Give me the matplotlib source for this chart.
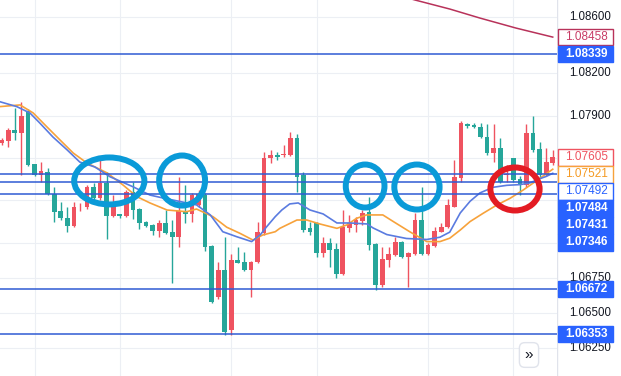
import matplotlib.pyplot as plt
from matplotlib.patches import Ellipse, Rectangle

# candle OHLC, one per bar (red = up, green = down on this chart)
opens = [1.07705, 1.07723, 1.07799, 1.07776, 1.07936, 1.07558, 1.07480, 1.07504, 1.07343, 1.07225,
         1.07178, 1.07116, 1.07250, 1.07250, 1.07396, 1.07314, 1.07420, 1.07187, 1.07203, 1.07187,
         1.07360, 1.07239, 1.07149, 1.07126, 1.07083, 1.07137, 1.07076, 1.07043, 1.07227, 1.07203,
         1.07268, 1.07338, 1.06976, 1.06613, 1.06807, 1.06384, 1.06878, 1.06862, 1.06807, 1.06866,
         1.07066, 1.07598, 1.07622, 1.07622, 1.07622, 1.07740, 1.07480, 1.07102, 1.07137, 1.06929,
         1.06995, 1.06953, 1.06778, 1.07102, 1.07126, 1.07156, 1.07220, 1.06988, 1.06700, 1.06878,
         1.06913, 1.07003, 1.06901, 1.06920, 1.07161, 1.06920, 1.06976, 1.07078, 1.07108, 1.07255,
         1.07456, 1.07842, 1.07835, 1.07823, 1.07752, 1.07634, 1.07669, 1.07478, 1.07598, 1.07452,
         1.07409, 1.07776, 1.07662, 1.07480, 1.07563]
closes = [1.07728, 1.07799, 1.07776, 1.07898, 1.07551, 1.07480, 1.07511, 1.07343, 1.07220, 1.07173,
          1.07116, 1.07255, 1.07255, 1.07396, 1.07314, 1.07424, 1.07187, 1.07260, 1.07193, 1.07360,
          1.07232, 1.07142, 1.07121, 1.07083, 1.07142, 1.07071, 1.07043, 1.07225, 1.07203, 1.07338,
          1.07346, 1.06971, 1.06581, 1.06807, 1.06369, 1.06878, 1.06859, 1.06807, 1.06862, 1.07078,
          1.07598, 1.07622, 1.07610, 1.07629, 1.07740, 1.07468, 1.07090, 1.07078, 1.06929, 1.06995,
          1.06948, 1.06778, 1.07113, 1.07137, 1.07161, 1.07213, 1.06983, 1.06700, 1.06885, 1.06918,
          1.07003, 1.06897, 1.06929, 1.07161, 1.06920, 1.06983, 1.07083, 1.07113, 1.07268, 1.07468,
          1.07851, 1.07827, 1.07818, 1.07752, 1.07634, 1.07669, 1.07433, 1.07487, 1.07445, 1.07409,
          1.07776, 1.07657, 1.07480, 1.07575, 1.07605]
highs = [1.07742, 1.07811, 1.07955, 1.08000, 1.07948, 1.07558, 1.07575, 1.07530, 1.07396, 1.07291,
         1.07255, 1.07291, 1.07284, 1.07409, 1.07423, 1.07587, 1.07499, 1.07338, 1.07207, 1.07374,
         1.07434, 1.07246, 1.07156, 1.07133, 1.07161, 1.07232, 1.07161, 1.07466, 1.07409, 1.07353,
         1.07374, 1.07353, 1.06983, 1.06866, 1.07043, 1.06920, 1.06971, 1.06935, 1.06871, 1.07149,
         1.07645, 1.07657, 1.07645, 1.07693, 1.07787, 1.07771, 1.07501, 1.07149, 1.07149, 1.07043,
         1.07031, 1.06998, 1.07232, 1.07196, 1.07185, 1.07232, 1.07324, 1.06998, 1.06971, 1.06971,
         1.07043, 1.07015, 1.06936, 1.07209, 1.07395, 1.07000, 1.07113, 1.07137, 1.07308, 1.07587,
         1.07865, 1.07851, 1.07847, 1.07847, 1.07842, 1.07842, 1.07745, 1.07551, 1.07600, 1.07473,
         1.07842, 1.07898, 1.07716, 1.07669, 1.07657]
lows = [1.07693, 1.07681, 1.07726, 1.07480, 1.07544, 1.07473, 1.07433, 1.07338, 1.07149, 1.07161,
        1.07078, 1.07111, 1.07227, 1.07239, 1.07303, 1.07303, 1.07024, 1.07182, 1.07178, 1.07182,
        1.07166, 1.07095, 1.07115, 1.07055, 1.07043, 1.07062, 1.06712, 1.06973, 1.07140, 1.07149,
        1.07253, 1.06943, 1.06572, 1.06604, 1.06346, 1.06346, 1.06854, 1.06800, 1.06613, 1.06857,
        1.07055, 1.07566, 1.07587, 1.07610, 1.07615, 1.07360, 1.07076, 1.07055, 1.06900, 1.06900,
        1.06830, 1.06748, 1.06771, 1.07078, 1.07078, 1.07126, 1.06948, 1.06665, 1.06686, 1.06830,
        1.06906, 1.06892, 1.06684, 1.06913, 1.06913, 1.06913, 1.06971, 1.07076, 1.07104, 1.07253,
        1.07433, 1.07811, 1.07811, 1.07740, 1.07622, 1.07575, 1.07423, 1.07433, 1.07430, 1.07338,
        1.07395, 1.07643, 1.07456, 1.07473, 1.07551]

# moving averages, read at bar positions
blue_ma_x = [-0.3, 2.3, 4.3, 5.8, 7.8, 10.0, 11.9, 14.2, 16.5, 20.0, 22.6, 24.6, 29.7, 31.8, 33.7,
             35.8, 38.1, 39.4, 40.4, 41.7, 42.7, 43.9, 45.2, 47.0, 49.0, 51.1, 53.1, 55.7, 56.6, 58.7,
             61.7, 64.8, 66.8, 68.3, 69.9, 71.4, 72.9, 74.9, 77.0, 79.0, 80.5, 82.1, 83.0, 84.0]
blue_ma = [1.08000, 1.07965, 1.07920, 1.07849, 1.07750, 1.07657, 1.07572, 1.07537, 1.07468, 1.07397,
           1.07338, 1.07317, 1.07268, 1.07197, 1.07078, 1.07043, 1.07008, 1.07055, 1.07114, 1.07185,
           1.07232, 1.07275, 1.07282, 1.07232, 1.07204, 1.07140, 1.07140, 1.07133, 1.07105, 1.07058,
           1.07030, 1.07023, 1.07039, 1.07075, 1.07211, 1.07294, 1.07353, 1.07393, 1.07407, 1.07412,
           1.07424, 1.07455, 1.07470, 1.07492]
orange_ma_x = [-0.3, 2.8, 4.8, 6.9, 8.9, 10.9, 13.0, 16.1, 18.5, 20.6, 22.6, 25.2, 28.2, 29.7, 32.2,
               34.3, 36.3, 38.3, 39.8, 41.7, 42.4, 45.0, 46.5, 48.5, 51.1, 52.6, 54.1, 55.6, 58.1, 59.7,
               62.2, 64.8, 66.8, 68.3, 69.9, 71.4, 73.4, 75.5, 77.5, 79.5, 81.3, 83.1, 84.0]
orange_ma = [1.07965, 1.07977, 1.07920, 1.07821, 1.07728, 1.07636, 1.07565, 1.07494, 1.07409, 1.07327,
             1.07282, 1.07232, 1.07220, 1.07239, 1.07185, 1.07110, 1.07067, 1.07019, 1.07055, 1.07078,
             1.07102, 1.07161, 1.07161, 1.07133, 1.07102, 1.07126, 1.07173, 1.07197, 1.07197, 1.07150,
             1.07078, 1.07008, 1.07008, 1.07032, 1.07090, 1.07150, 1.07209, 1.07268, 1.07315, 1.07374,
             1.07432, 1.07492, 1.07521]
slow_ma_x = [61.4, 63.0, 68.3, 72.9, 78.4, 84.0]
slow_ma = [1.08742, 1.08721, 1.08657, 1.08593, 1.08522, 1.08458]

levels = [1.08339, 1.07484, 1.07431, 1.07346, 1.06672, 1.06353]
tick_values = [1.08600, 1.08200, 1.07900, 1.06750, 1.06500, 1.06250]
hidden_grid = [1.07600, 1.07300, 1.07000]
time_grid = [5, 18, 35, 48, 65, 78]

# annotation ellipses: centre bar, centre price, width (bars), height (price)
circles = [(16.4, 1.07438, 10.7, 0.00333, "#0a9ad8"),
           (27.5, 1.07441, 7.0, 0.00355, "#0a9ad8"),
           (55.4, 1.07402, 5.9, 0.00305, "#0a9ad8"),
           (63.3, 1.07395, 6.9, 0.00319, "#0a9ad8"),
           (78.25, 1.07381, 7.5, 0.00305, "#e31b23")]

UP = "#ef5360"
DOWN = "#26a69a"
LINE_BLUE = "#2f5bd3"
TAG_BLUE = "#2962ff"

plt.rcParams["font.family"] = ["Liberation Sans", "DejaVu Sans"]

W, H = 621, 376
fig = plt.figure(figsize=(W / 100, H / 100), dpi=100)
ax = fig.add_axes([0, 0, 557 / W, 1])
pax = fig.add_axes([557 / W, 0, 1 - 557 / W, 1])
ylim = (1.06055, 1.08721)
ax.set_xlim(-0.26, 84.65)
ax.set_ylim(*ylim)
pax.set_xlim(0, 1)
pax.set_ylim(*ylim)
for a in (ax, pax):
    a.set_axis_off()

# grid
for v in tick_values + hidden_grid:
    ax.axhline(v, color="#eceff4", lw=0.8, zorder=0)
for t in time_grid:
    ax.axvline(t, color="#eceff4", lw=0.8, zorder=0)

idx = list(range(len(opens)))
colors = [UP if c >= o else DOWN for o, c in zip(opens, closes)]
ax.vlines(idx, lows, highs, colors=colors, lw=1, zorder=2)
bottoms = [min(o, c) for o, c in zip(opens, closes)]
heights = [max(abs(c - o), 0.00006) for o, c in zip(opens, closes)]
ax.bar(idx, heights, bottom=bottoms, width=0.72, color=colors, lw=0, zorder=3)

ax.plot(slow_ma_x, slow_ma, color="#b8325a", lw=1.1, zorder=4)
ax.plot(orange_ma_x, orange_ma, color="#f7a23b", lw=1.2, zorder=4)
ax.plot(blue_ma_x, blue_ma, color="#5a7be0", lw=1.2, zorder=4)

for v in levels:
    ax.axhline(v, color=LINE_BLUE, lw=1.1, zorder=5)

for cx, cy, w, h, col in circles:
    ax.add_patch(Ellipse((cx, cy), w, h, fill=False, ec=col, lw=4.3, zorder=6))

# price scale
pax.axvline(0, color="#e0e3eb", lw=1)
for v in tick_values:
    pax.text(0.52, v, f"{v:.5f}", ha="center", va="center", fontsize=8.3, color="#131722")

# tags: (value, fill, edge, text colour)
tags = [(slow_ma[-1], "white", "#b8325a", "#c83c66"),
        (levels[0], TAG_BLUE, TAG_BLUE, "white"),
        (closes[-1], "white", UP, UP),
        (orange_ma[-1], "white", "#f7a23b", "#f59a23"),
        (blue_ma[-1], "white", TAG_BLUE, TAG_BLUE),
        (levels[1], TAG_BLUE, TAG_BLUE, "white"),
        (levels[2], TAG_BLUE, TAG_BLUE, "white"),
        (levels[3], TAG_BLUE, TAG_BLUE, "white"),
        (levels[4], TAG_BLUE, TAG_BLUE, "white"),
        (levels[5], TAG_BLUE, TAG_BLUE, "white")]
tag_h = 0.00117
prev = None
for v, fc, ec, tc in sorted(tags, key=lambda t: -t[0]):
    pos = v if prev is None else min(v, prev - tag_h * 1.03)
    prev = pos
    pax.add_patch(Rectangle((0.015, pos - tag_h / 2), 0.86, tag_h, fc=fc, ec=ec, lw=1, zorder=3))
    pax.text(0.46, pos, f"{v:.5f}", ha="center", va="center", fontsize=8.5, color=tc,
             fontweight="bold" if fc != "white" else "normal", zorder=4)

fig.text(529 / W, 1 - 355 / H, "»", ha="center", va="center", fontsize=11, color="#131722",
         bbox=dict(boxstyle="round,pad=0.35", fc="white", ec="#e0e3eb", lw=1))

fig.savefig("out.png", dpi=100)
